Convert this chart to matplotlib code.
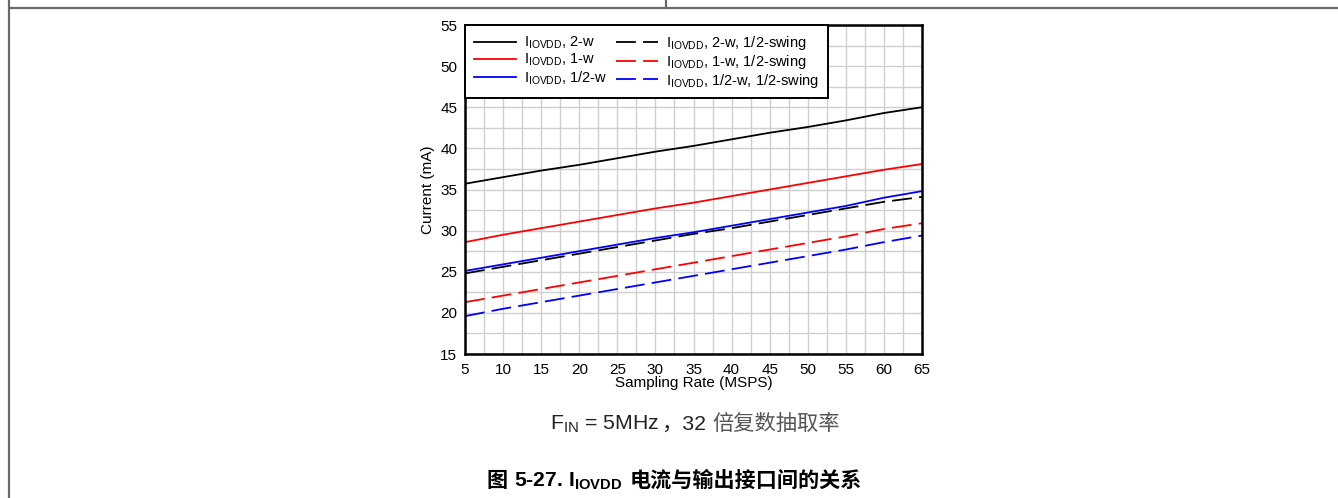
import matplotlib
matplotlib.use("Agg")
from matplotlib import pyplot as plt
from matplotlib.lines import Line2D
from matplotlib.ticker import MultipleLocator

plt.rcParams['font.family'] = ['Liberation Sans', 'Noto Sans CJK SC']
plt.rcParams['mathtext.fontset'] = 'custom'
plt.rcParams['mathtext.rm'] = 'Liberation Sans'
plt.rcParams['mathtext.bf'] = 'Liberation Sans:bold'

# sampling rate (MSPS)
rate = [5, 10, 15, 20, 25, 30, 35, 40, 45, 50, 55, 60, 65]

# IOVDD current (mA)
i_2w = [35.7, 36.5, 37.3, 38.0, 38.8, 39.6, 40.3, 41.1, 41.9, 42.6, 43.4, 44.3, 45.0]
i_1w = [28.6, 29.5, 30.3, 31.1, 31.9, 32.7, 33.4, 34.2, 35.0, 35.8, 36.6, 37.4, 38.1]
i_half_w = [25.1, 25.9, 26.7, 27.5, 28.3, 29.1, 29.8, 30.6, 31.4, 32.2, 33.0, 34.0, 34.8]
i_2w_hs = [24.8, 25.6, 26.4, 27.2, 28.0, 28.8, 29.6, 30.3, 31.1, 31.9, 32.7, 33.5, 34.1]
i_1w_hs = [21.3, 22.1, 22.9, 23.7, 24.5, 25.3, 26.1, 26.9, 27.7, 28.5, 29.3, 30.2, 30.9]
i_half_w_hs = [19.6, 20.5, 21.3, 22.1, 22.9, 23.7, 24.5, 25.3, 26.1, 26.9, 27.7, 28.6, 29.4]

sub = r'$\mathregular{I_{IOVDD}}$'
solid_labels = [sub + ', 2-w', sub + ', 1-w', sub + ', 1/2-w']
dashed_labels = [sub + ', 2-w, 1/2-swing', sub + ', 1-w, 1/2-swing', sub + ', 1/2-w, 1/2-swing']
colors = ['black', 'red', 'blue']

fig = plt.figure(figsize=(13.38, 4.98), dpi=100)
ax = fig.add_axes([465 / 1338, 1 - 354 / 498, (922 - 465) / 1338, (354 - 25) / 498])

lw = 1.3
for y, c, lab in zip([i_2w, i_1w, i_half_w], colors, solid_labels):
    ax.plot(rate, y, color=c, lw=lw, label=lab)
for y, c, lab in zip([i_2w_hs, i_1w_hs, i_half_w_hs], colors, dashed_labels):
    ax.plot(rate, y, color=c, lw=lw, dashes=(11, 4), label=lab)

ax.set_xlim(5, 65)
ax.set_ylim(15, 55)
ax.xaxis.set_major_locator(MultipleLocator(5))
ax.xaxis.set_minor_locator(MultipleLocator(2.5))
ax.yaxis.set_major_locator(MultipleLocator(5))
ax.yaxis.set_minor_locator(MultipleLocator(2.5))
ax.grid(which='both', color='#cfcfcf', lw=1.0)
ax.set_axisbelow(True)
ax.tick_params(which='both', length=0, labelsize=11, colors='black')
ax.tick_params(axis='x', pad=6.5)
ax.tick_params(axis='y', pad=5.5)
for s in ax.spines.values():
    s.set_linewidth(1.8)
    s.set_color('black')
ax.set_xlabel('Sampling Rate (MSPS)', fontsize=11, labelpad=-1)
ax.set_ylabel('Current (mA)', fontsize=11, labelpad=4)

leg = ax.legend(ncol=2, loc='upper left', bbox_to_anchor=(0, 1), borderaxespad=0,
                fontsize=10.5, handlelength=2.9, handletextpad=0.55, columnspacing=0.6,
                labelspacing=0.06, borderpad=0.6, fancybox=False, framealpha=1,
                edgecolor='black')
leg.get_frame().set_linewidth(1.4)


def draw_runs(runs, xc, y, size, weight='normal'):
    # lay text pieces side by side on one baseline, centred on xc (pixels)
    r = fig.canvas.get_renderer()
    arts = []
    for s, gap, col in runs:
        t = fig.text(0, y / 498, s, fontsize=size, weight=weight, color=col,
                     va='baseline', ha='left')
        arts.append((t, gap))
    widths = [t.get_window_extent(r).width for t, _ in arts]
    total = sum(widths) + sum(g for _, g in arts)
    x = xc - total / 2
    for (t, gap), w in zip(arts, widths):
        t.set_x(x / 1338)
        x += w + gap


fig.canvas.draw()
draw_runs([(r'$\mathregular{F_{IN}}$ = 5MHz', 2, '#222222'),
           ('，32', 7, '#222222'),
           ('倍复数抽取率', 0, '#555555')], 695, 498 - 430, 15.3)
draw_runs([('图', 7, 'black'),
           (r'5-27. $\mathbf{I_{IOVDD}}$', 7, 'black'),
           ('电流与输出接口间的关系', 0, 'black')], 674, 498 - 487, 15.2, weight='bold')

# page frame lines
frame = dict(color='#6a6a6a', lw=1.6, transform=fig.transFigure)
fig.add_artist(Line2D([9 / 1338, 1], [1 - 8 / 498] * 2, **frame))
fig.add_artist(Line2D([9 / 1338] * 2, [0, 1], **frame))
fig.add_artist(Line2D([666 / 1338] * 2, [1 - 8 / 498, 1], **frame))

fig.savefig('out.png', dpi=100)
